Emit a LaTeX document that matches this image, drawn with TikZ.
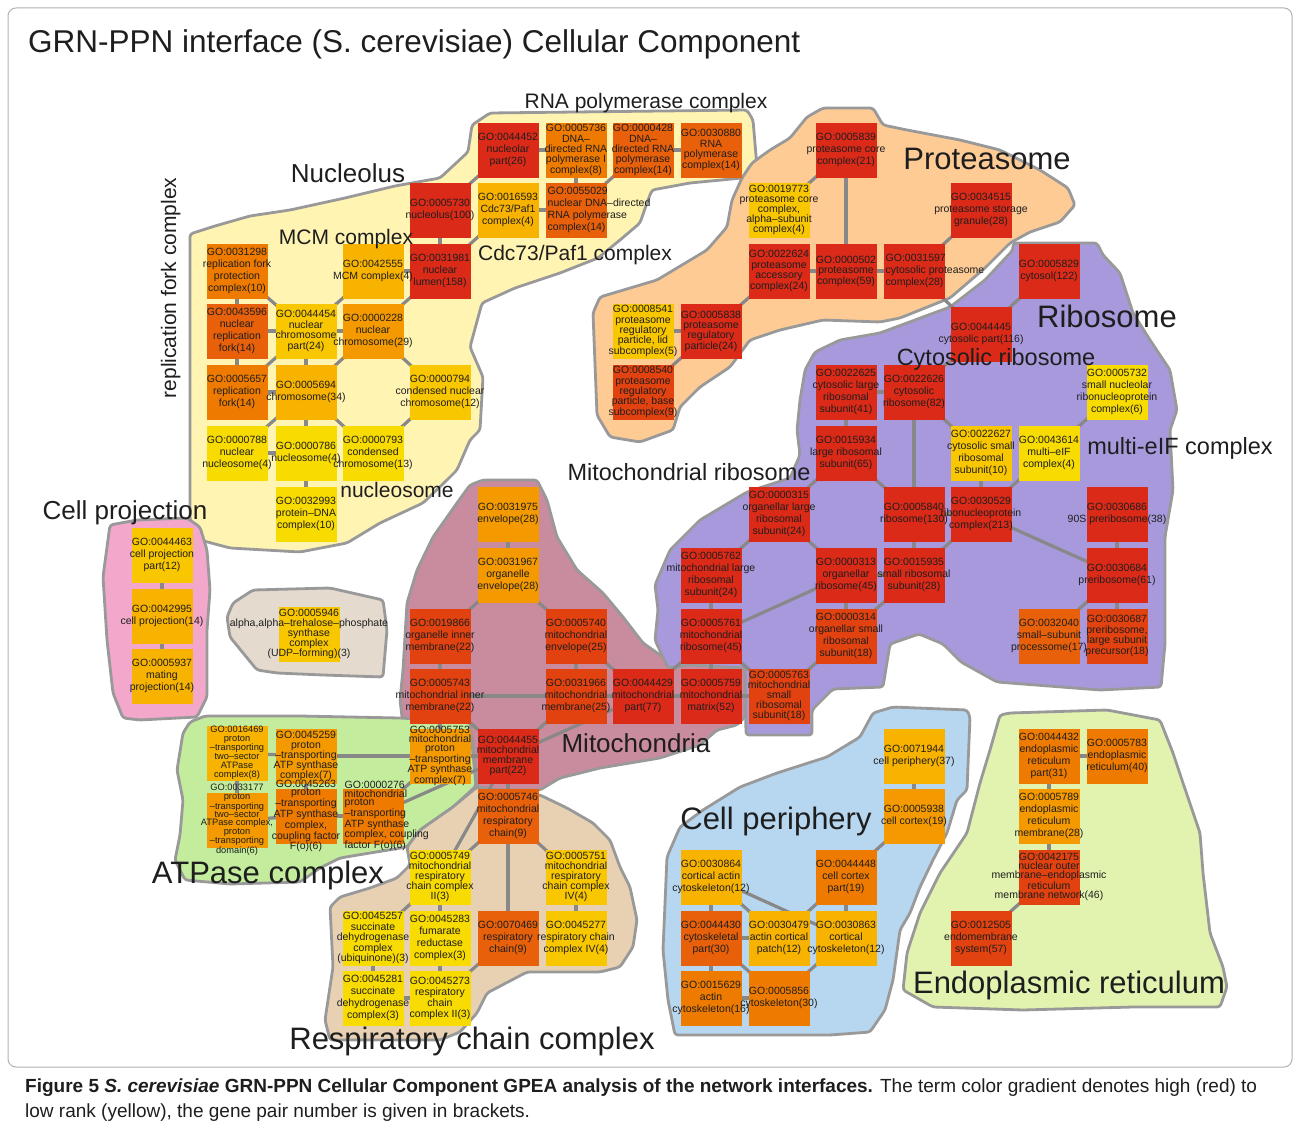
\documentclass[tikz,border=0pt]{standalone}
\usepackage{fontspec}
\setmainfont{Liberation Sans}
\pgfdeclarelayer{regions}
\pgfdeclarelayer{edges}
\pgfdeclarelayer{front}
\pgfsetlayers{regions,edges,main,front}
% term colours: high rank (red) to low rank (yellow)
\definecolor{cred}{HTML}{DC2A18}
\definecolor{credor}{HTML}{E2420F}
\definecolor{cdkor}{HTML}{E8600A}
\definecolor{cor}{HTML}{EF7A00}
\definecolor{cltor}{HTML}{F49A00}
\definecolor{camber}{HTML}{F8B200}
\definecolor{cgold}{HTML}{F9C700}
\definecolor{cyel}{HTML}{F8DB00}
% region colours
\definecolor{rnucl}{HTML}{FFF4B2}
\definecolor{rprot}{HTML}{FECB95}
\definecolor{rribo}{HTML}{A899DC}
\definecolor{rmito}{HTML}{C98B9E}
\definecolor{ratp}{HTML}{C3EC9D}
\definecolor{rresp}{HTML}{E8D1B3}
\definecolor{rperi}{HTML}{B7D7F0}
\definecolor{rer}{HTML}{E1F3AF}
\definecolor{rproj}{HTML}{F3A7CB}
\definecolor{rtre}{HTML}{E4DACD}
\definecolor{rline}{HTML}{999999}
\definecolor{eline}{HTML}{888888}
\definecolor{tdark}{HTML}{1E1E1E}
% one GO term: box in the main layer, its text on top of everything
\newcommand\gobox[6][12]{%
  \node[gobox, fill=#5] (#2) at (#3,#4) {};
  \begin{pgfonlayer}{front}
    \node[gotext, font=\fontsize{10.5}{#1}\selectfont] (#2-t) at (#3,#4) {#6};
  \end{pgfonlayer}}
% same, smaller type for the long multi-line terms
\newcommand\goboxs[6][9]{%
  \node[gobox, fill=#5] (#2) at (#3,#4) {};
  \begin{pgfonlayer}{front}
    \node[gotext, font=\fontsize{9.3}{#1}\selectfont] (#2-t) at (#3,#4) {#6};
  \end{pgfonlayer}}
% same, with the text block set flush left from the box's left edge
\newcommand\goboxl[6][12]{%
  \node[gobox, fill=#5] (#2) at (#3,#4) {};
  \begin{pgfonlayer}{front}
    \node[gotext, align=left, anchor=west, font=\fontsize{10.5}{#1}\selectfont] (#2-t) at ([xshift=2pt]#2.west) {#6};
  \end{pgfonlayer}}
\begin{document}
\begin{tikzpicture}[x=1pt,y=-1pt,
  gobox/.style={draw=none, minimum width=61pt, minimum height=55pt, inner sep=0pt, outer sep=0pt},
  gotext/.style={align=center, inner sep=0pt, text=tdark},
  region/.style={draw=rline, line width=2.8pt, rounded corners=3pt, line join=round},
  edge/.style={draw=eline, line width=3.2pt},
  grp/.style={anchor=base, inner sep=0pt, text=tdark},
  big/.style={grp, font=\fontsize{31}{36}\selectfont},
  mid/.style={grp, font=\fontsize{26}{30}\selectfont},
  sml/.style={grp, font=\fontsize{23.5}{27}\selectfont},
  tiny/.style={grp, font=\fontsize{21}{25}\selectfont}]
\useasboundingbox (0,0) rectangle (1294,1132);

% ---------------- page, frame and regions ----------------
\begin{pgfonlayer}{regions}
\fill[white] (0,0) rectangle (1294,1132);
\draw[draw=black!30, line width=1pt, rounded corners=8pt] (8,8) rectangle (1292,1067);
\draw[region, fill=rnucl] (190,234) -- (215,226) -- (250,216) -- (290,210) -- (345,198) -- (395,186) -- (440,178) -- (468,152) -- (472,125) -- (490,113) -- (747,110) -- (753,120) -- (757,167) -- (742,178) -- (690,183) -- (652,190) -- (648,200) -- (640,223) -- (620,240) -- (598,258) -- (560,273) -- (515,288) -- (482,303) -- (470,347) -- (483,377) -- (480,430) -- (470,440) -- (457,470) -- (447,480) -- (423,503) -- (380,523) -- (347,543) -- (300,552) -- (230,548) -- (200,540) -- (190,520) -- cycle;
\draw[region, fill=rprot] (742,178) -- (752,163) -- (770,150) -- (790,138) -- (807,117) -- (823,108) -- (873,108) -- (883,125) -- (907,130) -- (960,140) -- (1000,150) -- (1040,170) -- (1068,188) -- (1075,205) -- (1060,222) -- (1030,232) -- (1010,243) -- (985,268) -- (950,298) -- (900,318) -- (880,322) -- (823,320) -- (780,330) -- (750,340) -- (730,367) -- (700,387) -- (680,407) -- (673,430) -- (640,442) -- (610,437) -- (597,415) -- (593,313) -- (600,297) -- (657,280) -- (707,250) -- (727,227) -- (732,200) -- cycle;
\draw[region, fill=rmito] (470,485) -- (483,480) -- (537,480) -- (547,500) -- (557,537) -- (577,570) -- (603,593) -- (623,617) -- (643,643) -- (663,657) -- (700,663) -- (745,668) -- (745,717) -- (737,725) -- (717,730) -- (700,745) -- (660,758) -- (600,768) -- (560,778) -- (540,790) -- (478,790) -- (472,735) -- (403,725) -- (400,700) -- (403,670) -- (407,603) -- (417,570) -- (433,537) -- (457,503) -- cycle;
\draw[region, fill=rribo] (1013,243) -- (1097,243) -- (1103,255) -- (1120,273) -- (1133,313) -- (1150,340) -- (1170,370) -- (1177,410) -- (1170,430) -- (1173,490) -- (1165,537) -- (1165,644) -- (1161,687) -- (1100,690) -- (997,682) -- (961,662) -- (943,644) -- (919,634) -- (890,644) -- (883,687) -- (833,689) -- (812,710) -- (812,735) -- (746,735) -- (745,668) -- (690,665) -- (668,668) -- (655,640) -- (658,610) -- (655,585) -- (670,550) -- (700,520) -- (747,492) -- (790,478) -- (800,455) -- (797,430) -- (800,400) -- (805,370) -- (815,352) -- (840,340) -- (880,333) -- (950,307) -- (985,280) -- (1013,250) -- cycle;
\draw[region, fill=ratp] (183,733) -- (190,722) -- (205,716) -- (300,716) -- (400,718) -- (470,722) -- (476,786) -- (453,807) -- (420,830) -- (407,847) -- (370,853) -- (340,858) -- (320,868) -- (300,882) -- (230,884) -- (185,880) -- (175,860) -- (180,835) -- (183,800) -- (177,770) -- cycle;
\draw[region, fill=rresp] (407,847) -- (420,830) -- (453,807) -- (477,787) -- (540,795) -- (567,808) -- (593,823) -- (610,840) -- (620,867) -- (630,887) -- (637,920) -- (633,947) -- (620,967) -- (600,972) -- (527,972) -- (487,993) -- (477,1013) -- (460,1032) -- (440,1040) -- (330,1040) -- (325,1020) -- (333,967) -- (330,907) -- (340,897) -- (370,888) -- (397,878) -- (410,865) -- cycle;
\draw[region, fill=rperi] (873,713) -- (893,707) -- (967,710) -- (970,717) -- (967,790) -- (957,800) -- (947,833) -- (933,860) -- (920,887) -- (910,913) -- (900,930) -- (893,980) -- (885,1010) -- (870,1032) -- (830,1035) -- (675,1035) -- (668,1000) -- (663,950) -- (667,857) -- (680,827) -- (703,810) -- (740,787) -- (777,773) -- (827,757) -- (860,737) -- cycle;
\draw[region, fill=rer] (1000,715) -- (1010,713) -- (1107,710) -- (1160,720) -- (1173,753) -- (1183,783) -- (1200,833) -- (1203,873) -- (1210,933) -- (1223,967) -- (1227,987) -- (1220,1007) -- (1133,1007) -- (1023,1010) -- (933,1007) -- (903,990) -- (907,953) -- (920,913) -- (940,873) -- (967,833) -- (980,783) -- (990,750) -- cycle;
\draw[region, fill=rproj] (110,525) -- (137,520) -- (187,518) -- (200,527) -- (207,550) -- (210,590) -- (207,630) -- (207,697) -- (197,717) -- (140,720) -- (123,718) -- (113,693) -- (107,640) -- (103,577) -- (107,547) -- cycle;
\draw[region, fill=rtre] (227,617) -- (233,603) -- (253,590) -- (330,588) -- (383,600) -- (387,630) -- (383,677) -- (323,675) -- (277,673) -- (257,670) -- (230,637) -- cycle;
\end{pgfonlayer}

\node[anchor=base west, inner sep=0pt, text=tdark, font=\fontsize{31.5}{36}\selectfont] (title) at (28,53)
  {GRN-PPN interface (S. cerevisiae) Cellular Component};

% ---------------- nucleolus / chromosome ----------------
\gobox{go0044452}{508}{150}{cred}{GO:0044452\\nucleolar\\part(26)}
\gobox[10.3]{go0005736}{576}{150}{cor}{GO:0005736\\DNA–\\directed RNA\\polymerase I\\complex(8)}
\gobox[10.3]{go0000428}{643}{150}{cdkor}{GO:0000428\\DNA–\\directed RNA\\polymerase\\complex(14)}
\gobox[10.5]{go0030880}{711}{150}{cdkor}{GO:0030880\\RNA\\polymerase\\complex(14)}
\gobox{go0016593}{508}{210}{camber}{GO:0016593\\Cdc73/Paf1\\complex(4)}
\goboxl{go0055029}{576}{210}{cdkor}{GO:0055029\\nuclear DNA–directed\\RNA polymerase\\complex(14)}
\gobox{go0005730}{440}{210}{cred}{GO:0005730\\nucleolus(100)}
\gobox{go0031981}{440}{271}{cred}{GO:0031981\\nuclear\\lumen(158)}
\gobox{go0042555}{373}{271}{camber}{GO:0042555\\MCM complex(4)}
\gobox{go0031298}{237}{271}{cor}{GO:0031298\\replication fork\\protection\\complex(10)}
\gobox{go0043596}{237}{331}{cdkor}{GO:0043596\\nuclear\\replication\\fork(14)}
\gobox[10.5]{go0044454}{306}{331}{cgold}{GO:0044454\\nuclear\\chromosome\\part(24)}
\gobox{go0000228}{373}{331}{cltor}{GO:0000228\\nuclear\\chromosome(29)}
\gobox{go0005657}{237}{392}{cor}{GO:0005657\\replication\\fork(14)}
\gobox{go0005694}{306}{392}{camber}{GO:0005694\\chromosome(34)}
\gobox{go0000794}{440}{392}{cgold}{GO:0000794\\condensed nuclear\\chromosome(12)}
\gobox{go0000788}{237}{453}{cyel}{GO:0000788\\nuclear\\nucleosome(4)}
\gobox{go0000786}{306}{453}{cyel}{GO:0000786\\nucleosome(4)}
\gobox{go0000793}{373}{453}{cyel}{GO:0000793\\condensed\\chromosome(13)}
\gobox{go0032993}{306}{514}{cyel}{GO:0032993\\protein–DNA\\complex(10)}

% ---------------- proteasome ----------------
\gobox{go0005839}{846}{150}{cred}{GO:0005839\\proteasome core\\complex(21)}
\gobox[10]{go0019773}{779}{210}{cgold}{GO:0019773\\proteasome core\\complex,\\alpha–subunit\\complex(4)}
\gobox{go0034515}{981}{210}{cred}{GO:0034515\\proteasome storage\\granule(28)}
\gobox[10.5]{go0022624}{779}{271}{cred}{GO:0022624\\proteasome\\accessory\\complex(24)}
\gobox[10.5]{go0000502}{846}{271}{cred}{GO:0000502\\proteasome\\complex(59)}
\goboxl{go0031597}{914}{271}{cred}{GO:0031597\\cytosolic proteasome\\complex(28)}
\gobox[10.3]{go0008541}{643}{331}{cgold}{GO:0008541\\proteasome\\regulatory\\particle, lid\\subcomplex(5)}
\gobox[10.3]{go0005838}{711}{331}{cred}{GO:0005838\\proteasome\\regulatory\\particle(24)}
\gobox[10.3]{go0008540}{643}{392}{credor}{GO:0008540\\proteasome\\regulatory\\particle, base\\subcomplex(9)}

% ---------------- ribosome ----------------
\gobox{go0005829}{1049}{271}{cred}{GO:0005829\\cytosol(122)}
\gobox{go0044445}{981}{334}{cred}{GO:0044445\\cytosolic part(116)}
\gobox{go0022625}{846}{392}{cred}{GO:0022625\\cytosolic large\\ribosomal\\subunit(41)}
\gobox{go0022626}{914}{392}{cred}{GO:0022626\\cytosolic\\ribosome(82)}
\gobox{go0005732}{1117}{392}{cyel}{GO:0005732\\small nucleolar\\ribonucleoprotein\\complex(6)}
\gobox{go0015934}{846}{453}{cred}{GO:0015934\\large ribosomal\\subunit(65)}
\gobox{go0022627}{981}{453}{cgold}{GO:0022627\\cytosolic small\\ribosomal\\subunit(10)}
\gobox{go0043614}{1049}{453}{cyel}{GO:0043614\\multi–eIF\\complex(4)}
\gobox{go0000315}{779}{514}{cred}{GO:0000315\\organellar large\\ribosomal\\subunit(24)}
\gobox{go0005840}{914}{514}{cred}{GO:0005840\\ribosome(130)}
\gobox{go0030529}{981}{514}{cred}{GO:0030529\\ribonucleoprotein\\complex(213)}
\gobox{go0030686}{1117}{514}{cred}{GO:0030686\\90S preribosome(38)}
\gobox{go0005762}{711}{575}{cred}{GO:0005762\\mitochondrial large\\ribosomal\\subunit(24)}
\gobox{go0000313}{846}{575}{cred}{GO:0000313\\organellar\\ribosome(45)}
\gobox{go0015935}{914}{575}{cred}{GO:0015935\\small ribosomal\\subunit(28)}
\gobox{go0030684}{1117}{575}{cred}{GO:0030684\\preribosome(61)}
\gobox{go0005761}{711}{636}{cred}{GO:0005761\\mitochondrial\\ribosome(45)}
\gobox{go0000314}{846}{636}{credor}{GO:0000314\\organellar small\\ribosomal\\subunit(18)}
\gobox{go0032040}{1049}{636}{cdkor}{GO:0032040\\small–subunit\\processome(17)}
\gobox[10.5]{go0030687}{1117}{636}{credor}{GO:0030687\\preribosome,\\large subunit\\precursor(18)}
\gobox[10]{go0005763}{779}{696}{credor}{GO:0005763\\mitochondrial\\small\\ribosomal\\subunit(18)}

% ---------------- mitochondria ----------------
\gobox{go0031975}{508}{514}{cltor}{GO:0031975\\envelope(28)}
\gobox{go0031967}{508}{575}{cltor}{GO:0031967\\organelle\\envelope(28)}
\gobox{go0019866}{440}{636}{credor}{GO:0019866\\organelle inner\\membrane(22)}
\gobox{go0005740}{576}{636}{credor}{GO:0005740\\mitochondrial\\envelope(25)}
\gobox{go0005743}{440}{696}{credor}{GO:0005743\\mitochondrial inner\\membrane(22)}
\gobox{go0031966}{576}{696}{credor}{GO:0031966\\mitochondrial\\membrane(25)}
\gobox{go0044429}{643}{696}{cred}{GO:0044429\\mitochondrial\\part(77)}
\gobox{go0005759}{711}{696}{cred}{GO:0005759\\mitochondrial\\matrix(52)}
\gobox[10]{go0044455}{508}{756}{cred}{GO:0044455\\mitochondrial\\membrane\\part(22)}
\gobox[9]{go0005753}{440}{756}{cltor}{GO:0005753\\mitochondrial\\proton\\–transporting\\ATP synthase\\complex(7)}

% ---------------- ATPase complex ----------------
\goboxs[9]{go0016469}{237}{753}{camber}{GO:0016469\\proton\\–transporting\\two–sector\\ATPase\\complex(8)}
\gobox[10]{go0045259}{306}{756}{cltor}{GO:0045259\\proton\\–transporting\\ATP synthase\\complex(7)}
\goboxs[8.4]{go0033177}{237}{820}{cltor}{GO:0033177\\proton\\–transporting\\two–sector\\ATPase complex,\\proton\\–transporting\\domain(6)}
\gobox[8.6]{go0045263}{306}{816}{cor}{GO:0045263\\proton\\–transporting\\ATP synthase\\complex,\\coupling factor\\F(o)(6)}
\goboxl[8.6]{go0000276}{373}{816}{cor}{GO:0000276\\mitochondrial\\proton\\–transporting\\ATP synthase\\complex, coupling\\factor F(o)(6)}

% ---------------- respiratory chain ----------------
\gobox{go0005746}{508}{816}{cdkor}{GO:0005746\\mitochondrial\\respiratory\\chain(9)}
\gobox[10]{go0005749}{440}{877}{cyel}{GO:0005749\\mitochondrial\\respiratory\\chain complex\\II(3)}
\gobox[10]{go0005751}{576}{877}{cgold}{GO:0005751\\mitochondrial\\respiratory\\chain complex\\IV(4)}
\gobox[10.5]{go0045257}{373}{938}{cyel}{GO:0045257\\succinate\\dehydrogenase\\complex\\(ubiquinone)(3)}
\gobox{go0045283}{440}{938}{cyel}{GO:0045283\\fumarate\\reductase\\complex(3)}
\gobox{go0070469}{508}{938}{cdkor}{GO:0070469\\respiratory\\chain(9)}
\gobox{go0045277}{576}{938}{cgold}{GO:0045277\\respiratory chain\\complex IV(4)}
\gobox{go0045281}{373}{998}{cyel}{GO:0045281\\succinate\\dehydrogenase\\complex(3)}
\gobox[11]{go0045273}{440}{998}{cyel}{GO:0045273\\respiratory\\chain\\complex II(3)}

% ---------------- cell periphery ----------------
\gobox{go0071944}{914}{756}{camber}{GO:0071944\\cell periphery(37)}
\gobox{go0005938}{914}{816}{cltor}{GO:0005938\\cell cortex(19)}
\gobox{go0030864}{711}{877}{camber}{GO:0030864\\cortical actin\\cytoskeleton(12)}
\gobox{go0044448}{846}{877}{cor}{GO:0044448\\cell cortex\\part(19)}
\gobox{go0044430}{711}{938}{cdkor}{GO:0044430\\cytoskeletal\\part(30)}
\gobox{go0030479}{779}{938}{camber}{GO:0030479\\actin cortical\\patch(12)}
\gobox{go0030863}{846}{938}{camber}{GO:0030863\\cortical\\cytoskeleton(12)}
\gobox{go0015629}{711}{998}{cor}{GO:0015629\\actin\\cytoskeleton(16)}
\gobox{go0005856}{779}{998}{cor}{GO:0005856\\cytoskeleton(30)}

% ---------------- endoplasmic reticulum ----------------
\gobox{go0044432}{1049}{756}{cor}{GO:0044432\\endoplasmic\\reticulum\\part(31)}
\gobox{go0005783}{1117}{756}{cor}{GO:0005783\\endoplasmic\\reticulum(40)}
\gobox{go0005789}{1049}{816}{cltor}{GO:0005789\\endoplasmic\\reticulum\\membrane(28)}
\gobox[9.2]{go0042175}{1049}{877}{credor}{GO:0042175\\nuclear outer\\membrane–endoplasmic\\reticulum\\membrane network(46)}
\gobox{go0012505}{981}{938}{credor}{GO:0012505\\endomembrane\\system(57)}

% ---------------- cell projection, trehalose synthase ----------------
\gobox{go0044463}{162}{555}{cgold}{GO:0044463\\cell projection\\part(12)}
\gobox{go0042995}{162}{616}{camber}{GO:0042995\\cell projection(14)}
\gobox{go0005937}{162}{676}{camber}{GO:0005937\\mating\\projection(14)}
\gobox[10]{go0005946}{309}{634}{cgold}{GO:0005946\\alpha,alpha–trehalose–phosphate\\synthase\\complex\\(UDP–forming)(3)}

% ---------------- connectors ----------------
\begin{pgfonlayer}{edges}
\foreach \a/\b in {
  go0044452/go0005736, go0005736/go0055029, go0000428/go0030880, go0000428/go0055029,
  go0044452/go0005730, go0016593/go0055029, go0016593/go0031981, go0005730/go0031981,
  go0042555/go0031981, go0031298/go0043596, go0031298/go0044454, go0043596/go0044454,
  go0044454/go0042555, go0044454/go0000228, go0000228/go0031981, go0043596/go0005657,
  go0044454/go0005694, go0044454/go0005657, go0005657/go0005694, go0000228/go0005694,
  go0000228/go0000794, go0005694/go0000788, go0005694/go0000786, go0005694/go0000793,
  go0000794/go0000793, go0000788/go0000786, go0000786/go0032993,
  go0005839/go0019773, go0005839/go0000502, go0022624/go0000502, go0000502/go0031597,
  go0031597/go0034515, go0022624/go0005838, go0005838/go0008541, go0005838/go0008540,
  go0031597/go0044445,
  go0005829/go0044445, go0044445/go0022626, go0022625/go0022626, go0022625/go0015934,
  go0022626/go0022627, go0022626/go0005840, go0005732/go0043614, go0015934/go0005840,
  go0015934/go0000315, go0022627/go0030529, go0043614/go0030529, go0005840/go0030529,
  go0030529/go0030684, go0030686/go0030684, go0030684/go0032040, go0030684/go0030687,
  go0000315/go0005762, go0000315/go0000313, go0005840/go0015935, go0030529/go0015935,
  go0000313/go0015935, go0000313/go0005761, go0005762/go0005761, go0000313/go0000314,
  go0015935/go0000314, go0000314/go0005763, go0005761/go0044429, go0005761/go0005759,
  go0005761/go0005763, go0005759/go0005763, go0044429/go0005759,
  go0031975/go0031967, go0031967/go0019866, go0031967/go0005740, go0019866/go0005743,
  go0005740/go0031966, go0005740/go0044429, go0005743/go0031966, go0031966/go0044429,
  go0044429/go0044455, go0031966/go0044455, go0005743/go0005753, go0005743/go0044455,
  go0005753/go0044455,
  go0016469/go0045259, go0016469/go0033177, go0045259/go0045263, go0033177/go0045263,
  go0045263/go0000276, go0045259/go0005753, go0000276/go0005753, go0000276/go0044455,
  go0044455/go0005746, go0044455/go0005749, go0005746/go0005749, go0005746/go0070469,
  go0005746/go0005751, go0005749/go0045257, go0005749/go0045283, go0005751/go0045277,
  go0045257/go0045281, go0045283/go0045273, go0045281/go0045273, go0070469/go0045273,
  go0071944/go0005938, go0005938/go0044448, go0030864/go0044430, go0030864/go0030863,
  go0030864/go0030479, go0044448/go0030479, go0044448/go0030863, go0044430/go0030479,
  go0044430/go0015629, go0044430/go0005856, go0030863/go0005856, go0015629/go0005856,
  go0044432/go0005783, go0044432/go0005789, go0005789/go0042175, go0042175/go0012505,
  go0044463/go0042995, go0042995/go0005937}
  \draw[edge] (\a.center) -- (\b.center);
\end{pgfonlayer}

% ---------------- group labels ----------------
\begin{pgfonlayer}{front}
\node[tiny] (lrnap) at (646,108) {RNA polymerase complex};
\node[mid] (lnucl) at (348,182) {Nucleolus};
\node[tiny] (lmcm) at (346,244) {MCM complex};
\node[tiny] (lcdc) at (575,260) {Cdc73/Paf1 complex};
\node[tiny, rotate=90] (lrep) at (176,288) {replication fork complex};
\node[tiny] (lnucs) at (397,497) {nucleosome};
\node[big] (lprot) at (987,169) {Proteasome};
\node[big] (lribo) at (1107,327) {Ribosome};
\node[sml] (lcyto) at (996,365) {Cytosolic ribosome};
\node[sml] (leif) at (1180,454) {multi-eIF complex};
\node[sml] (lmrib) at (689,480) {Mitochondrial ribosome};
\node[mid] (lmito) at (636,752) {Mitochondria};
\node[mid] (lproj) at (125,519) {Cell projection};
\node[big] (latp) at (268,883) {ATPase complex};
\node[big] (lresp) at (472,1049) {Respiratory chain complex};
\node[big] (lperi) at (776,829) {Cell periphery};
\node[big] (ler) at (1069,993) {Endoplasmic reticulum};
\end{pgfonlayer}

% ---------------- caption ----------------
\node[anchor=base west, inner sep=0pt, text=tdark, font=\fontsize{19}{23}\selectfont] (cap1) at (25,1092)
  {\textbf{Figure 5 \textit{S. cerevisiae} GRN-PPN Cellular Component GPEA analysis of the network interfaces.} The term color gradient denotes high (red) to};
\node[anchor=base west, inner sep=0pt, text=tdark, font=\fontsize{19}{23}\selectfont] (cap2) at (25,1117)
  {low rank (yellow), the gene pair number is given in brackets.};
\end{tikzpicture}
\end{document}
